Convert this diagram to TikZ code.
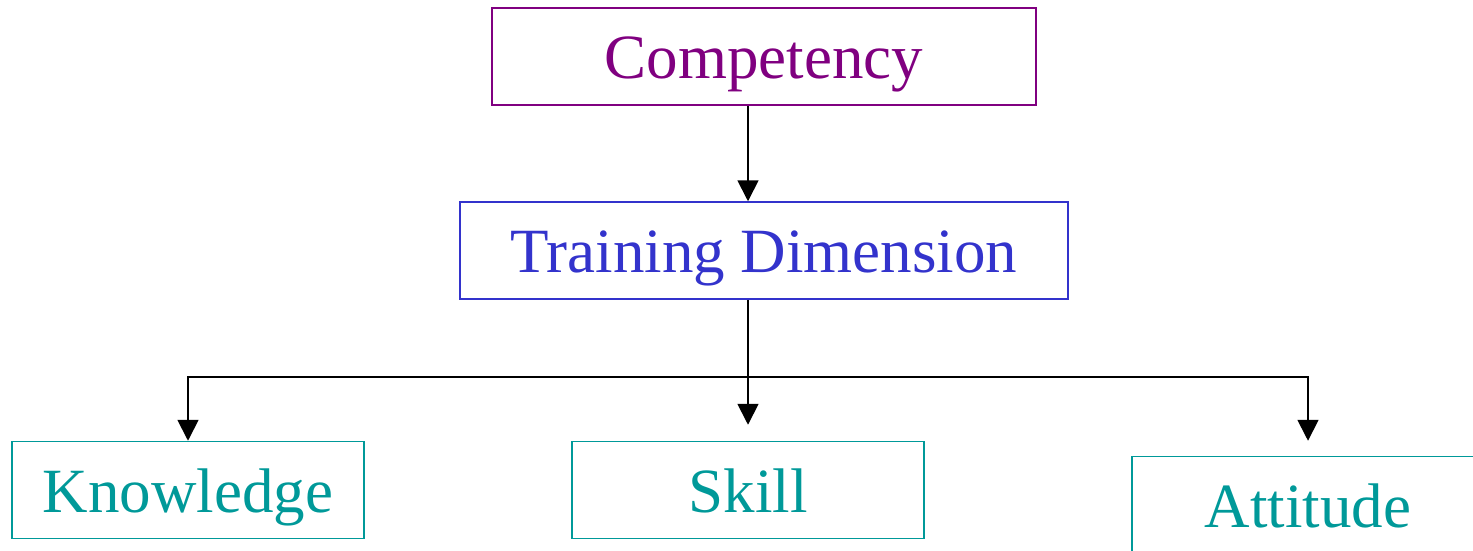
\documentclass[tikz,border=0pt]{standalone}
\usepackage{fontspec}
\setmainfont{Liberation Serif}
\usetikzlibrary{arrows.meta}
\definecolor{cpurple}{HTML}{800080}
\definecolor{cblue}{HTML}{3333CC}
\definecolor{cteal}{HTML}{009999}
\begin{document}
\begin{tikzpicture}[x=1pt,y=-1pt,
  box/.style={draw, rectangle, line width=1.5pt, inner sep=0pt,
    minimum height=97pt, text height=44pt, text depth=0pt,
    font=\fontsize{63}{70}\selectfont},
  arr/.style={line width=1.8pt, -{Triangle[length=21pt,width=21pt]}},
  link/.style={line width=1.8pt}]
  \useasboundingbox (0,0) rectangle (1473,551);

  % hierarchy boxes
  \node[box, cpurple, text=cpurple, minimum width=544pt] (comp) at (764,56.5) {Competency};
  \node[box, cblue, text=cblue, minimum width=608pt] (train) at (764,250.5) {Training Dimension};
  \node[box, cteal, text=cteal, minimum width=352pt] (know) at (188,490) {Knowledge};
  \node[box, cteal, text=cteal, minimum width=352pt] (skill) at (748,490) {Skill};
  \node[box, cteal, text=cteal, minimum width=352pt] (att) at (1308,505) {Attitude};

  % branching point below the middle box
  \coordinate (bus) at (748,377);

  % connectors
  \draw[arr] (comp.south -| skill.north) -- (train.north -| skill.north);
  \draw[arr, shorten >=16pt] (train.south -| skill.north) -- (skill.north);
  \draw[arr] (bus) -| (know.north);
  \draw[arr, shorten >=15pt] (bus) -| (att.north);
\end{tikzpicture}
\end{document}
